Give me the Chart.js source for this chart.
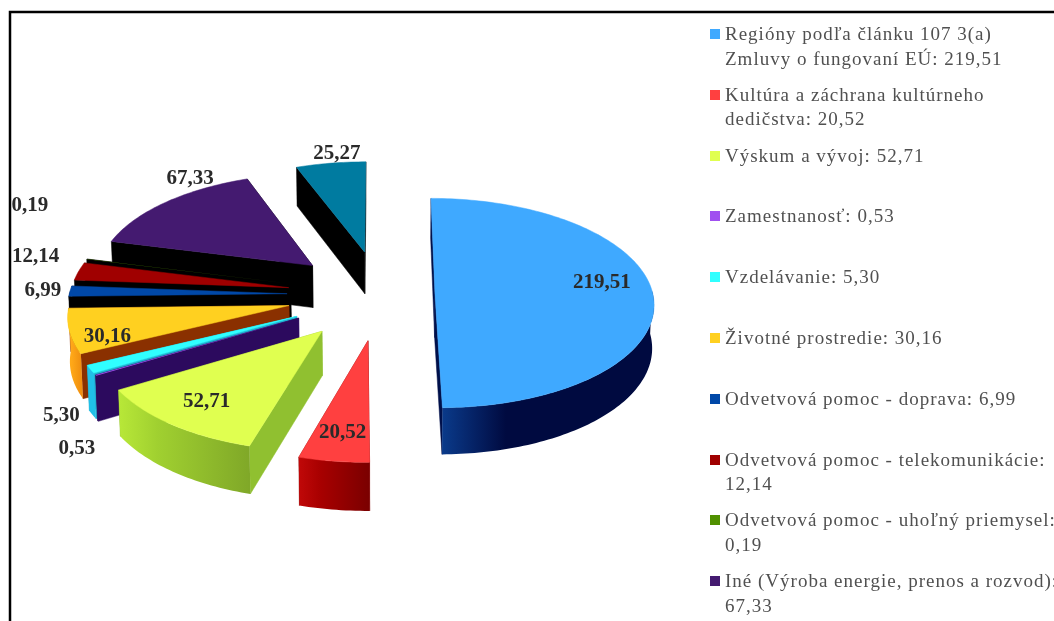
<!DOCTYPE html>
<html lang="sk">
<head>
<meta charset="utf-8">
<title>Koláčový graf</title>
<script src="https://cdn.jsdelivr.net/npm/chart.js@4"></script>
<style>
  html, body { margin: 0; padding: 0; background: #fff; width: 1054px; height: 621px; overflow: hidden; }
  #wrap { position: relative; width: 1054px; height: 621px; overflow: hidden; }
  #pie { position: absolute; left: 0; top: 0; }
  #legend { position: absolute; left: 710px; top: 22px; font: 19px "Liberation Serif", serif; letter-spacing: 1px; color: #505050; }
  .legend-row { position: relative; height: 60.8px; padding-left: 15px; line-height: 24.5px; white-space: pre; }
  .legend-swatch { position: absolute; left: 0; top: 7px; width: 10px; height: 10px; }
</style>
</head>
<body>
<div id="wrap">
  <canvas id="pie" width="1054" height="621"></canvas>
  <div id="legend"></div>
</div>
<script>
/* Dáta */
const categories = [
  'Regióny podľa článku 107 3(a)\nZmluvy o fungovaní EÚ',
  'Kultúra a záchrana kultúrneho\ndedičstva',
  'Výskum a vývoj',
  'Zamestnanosť',
  'Vzdelávanie',
  'Životné prostredie',
  'Odvetvová pomoc - doprava',
  'Odvetvová pomoc - telekomunikácie',
  'Odvetvová pomoc - uhoľný priemysel',
  'Iné (Výroba energie, prenos a rozvod)',
  ''
];
const values = [219.51, 20.52, 52.71, 0.53, 5.30, 30.16, 6.99, 12.14, 0.19, 67.33, 25.27];

/* Vzhľad */
const topColors = ['#3fa9ff', '#ff4040', '#e0ff50', '#a050f0', '#30ffff', '#ffd020', '#0048a8', '#a00000', '#509000', '#441a70', '#007ba0'];
const cutColors = ['#00104a', '#8a0000', '#90c030', '#2c0a5e', '#20b0d0', '#8a3000', '#000000', '#000000', '#000000', '#000000', '#000000'];
const rimColors = [
  ['#0a3a8a', '#000a40', '#000a40'],
  ['#c00808', '#a80000', '#7a0000'],
  ['#b8e838', '#a0d030', '#80a828'],
  ['#2c0a5e', '#2c0a5e', '#2c0a5e'],
  ['#20c0e8', '#20c0e8', '#20c0e8'],
  ['#ffa818', '#ffa818', '#f09010'],
  ['#000000', '#000000', '#000000'],
  ['#000000', '#000000', '#000000'],
  ['#000000', '#000000', '#000000'],
  ['#000000', '#000000', '#000000'],
  ['#000000', '#000000', '#000000']
];
const explode = [54, 94, 94, 94, 94, 94, 94, 94, 94, 94, 94];
const valueOnNewLine = [false, false, false, false, false, false, false, true, true, true, false];
// posun popisu od stredu okraja výseku, px
const labelNudge = [[-51, -11], [9, -29], [35, -23], [-19, 73], [-29, 46], [38, 5], [-27, -1], [-43, -15], [-57, -54], [25, -24], [6, -10]];

const TILT = 0.477;      // stlačenie elipsy
const PERSP = 0.08;      // perspektíva
const DEPTH = 43;        // výška koláča
const THIN_SLICE = 0.02; // pod túto šírku (rad) sa výsek neobťahuje
const DRAW_ORDER = [10, 9, 8, 7, 6, 5, 4, 3, 2, 1, 0];

const fmt = v => v.toFixed(2).replace('.', ',');

/* Premietnutie bodu koláča (v násobkoch polomeru) na plátno */
function project(el, px, py, lift) {
  const s = 1 / (1 - PERSP * py);
  const r = el.outerRadius;
  const x = el.x + r * px * s;
  return {
    x: lift ? el.x + (x - el.x) * 0.993 : x,
    y: el.y + r * TILT * py * s + (lift ? DEPTH * s : 0)
  };
}

function sliceGeometry(arc) {
  const el = arc.getProps(['x', 'y', 'startAngle', 'endAngle', 'outerRadius'], true);
  const mid = (el.startAngle + el.endAngle) / 2;
  const o = arc.options.offset / el.outerRadius;
  const ax = Math.cos(mid) * o, ay = Math.sin(mid) * o;
  const rim = [];
  const front = [];
  const steps = Math.max(2, Math.ceil((el.endAngle - el.startAngle) / 0.02));
  for (let i = 0; i <= steps; i++) {
    const a = el.startAngle + (el.endAngle - el.startAngle) * i / steps;
    const p = [ax + Math.cos(a), ay + Math.sin(a)];
    rim.push(p);
    if (Math.sin(a) > -0.05) front.push(p);
  }
  return { el, mid, o, apex: [ax, ay], rim, front };
}

function fillPath(ctx, points, fill, outline) {
  ctx.beginPath();
  points.forEach((p, i) => (i ? ctx.lineTo(p.x, p.y) : ctx.moveTo(p.x, p.y)));
  ctx.closePath();
  ctx.fillStyle = fill;
  ctx.fill();
  if (outline) {
    ctx.strokeStyle = fill;
    ctx.lineWidth = 0.5;
    ctx.stroke();
  }
}

const pie3d = {
  id: 'pie3d',
  beforeDatasetDraw(chart) {
    const { ctx } = chart;
    const arcs = chart.getDatasetMeta(0).data;
    DRAW_ORDER.forEach(i => {
      const { el, apex, rim, front } = sliceGeometry(arcs[i]);
      const up = p => project(el, p[0], p[1], false);
      const down = p => project(el, p[0], p[1], true);

      // bočné steny od zadnej po prednú
      const first = rim[0], last = rim[rim.length - 1];
      const walls = [
        { depth: (apex[1] + first[1]) / 2, pts: [up(apex), up(first), down(first), down(apex)], fill: cutColors[i], outline: true },
        { depth: (apex[1] + last[1]) / 2, pts: [up(apex), up(last), down(last), down(apex)], fill: cutColors[i], outline: true }
      ];
      if (front.length > 1) {
        const frontTop = front.map(up);
        const xs = frontTop.map(p => p.x);
        const grad = ctx.createLinearGradient(Math.min(...xs), 0, Math.max(...xs), 0);
        grad.addColorStop(0, rimColors[i][0]);
        grad.addColorStop(0.3, rimColors[i][1]);
        grad.addColorStop(1, rimColors[i][2]);
        walls.push({ depth: front[Math.floor(front.length / 2)][1], pts: frontTop.concat(front.map(down).reverse()), fill: grad, outline: false });
      }
      walls.sort((a, b) => a.depth - b.depth).forEach(w => fillPath(ctx, w.pts, w.fill, w.outline));

      // vrchná plocha
      const thin = arcs[i].endAngle - arcs[i].startAngle < THIN_SLICE;
      fillPath(ctx, [up(apex)].concat(rim.map(up)), arcs[i].options.backgroundColor, !thin);
    });
    return false; // plochý koláč nekreslíme
  },
  afterDatasetsDraw(chart) {
    const { ctx } = chart;
    const arcs = chart.getDatasetMeta(0).data;
    ctx.save();
    ctx.font = 'bold 21px "Liberation Serif", serif';
    ctx.fillStyle = '#2a2a2a';
    ctx.textAlign = 'center';
    ctx.textBaseline = 'middle';
    arcs.forEach((arc, i) => {
      const { el, mid, o } = sliceGeometry(arc);
      const p = project(el, Math.cos(mid) * (o + 1), Math.sin(mid) * (o + 1), false);
      ctx.fillText(fmt(values[i]), p.x + labelNudge[i][0], p.y + labelNudge[i][1]);
    });
    ctx.restore();
  },
  afterDraw(chart) {
    // rám grafu, vidno len ľavú a hornú stranu
    const { ctx } = chart;
    ctx.save();
    ctx.strokeStyle = '#000';
    ctx.lineWidth = 2.5;
    ctx.beginPath();
    ctx.moveTo(10, 621);
    ctx.lineTo(10, 12);
    ctx.lineTo(1054, 12);
    ctx.stroke();
    ctx.restore();
  }
};

new Chart(document.getElementById('pie'), {
  type: 'pie',
  data: {
    labels: categories,
    datasets: [{ data: values, backgroundColor: topColors, offset: explode, borderWidth: 0 }]
  },
  options: {
    responsive: false,
    animation: false,
    radius: 218,
    layout: { padding: { right: 292, bottom: 31.4 } },
    plugins: { legend: { display: false }, tooltip: { enabled: false } }
  },
  plugins: [pie3d]
});

function renderLegend() {
  const el = document.getElementById('legend');
  el.innerHTML = categories.map((name, i) => {
    if (!name) return '';
    const text = `${name}:${valueOnNewLine[i] ? '\n' : ' '}${fmt(values[i])}`;
    return `<div class="legend-row"><span class="legend-swatch" style="background:${topColors[i]}"></span>${text}</div>`;
  }).join('');
}
renderLegend();
</script>
</body>
</html>
